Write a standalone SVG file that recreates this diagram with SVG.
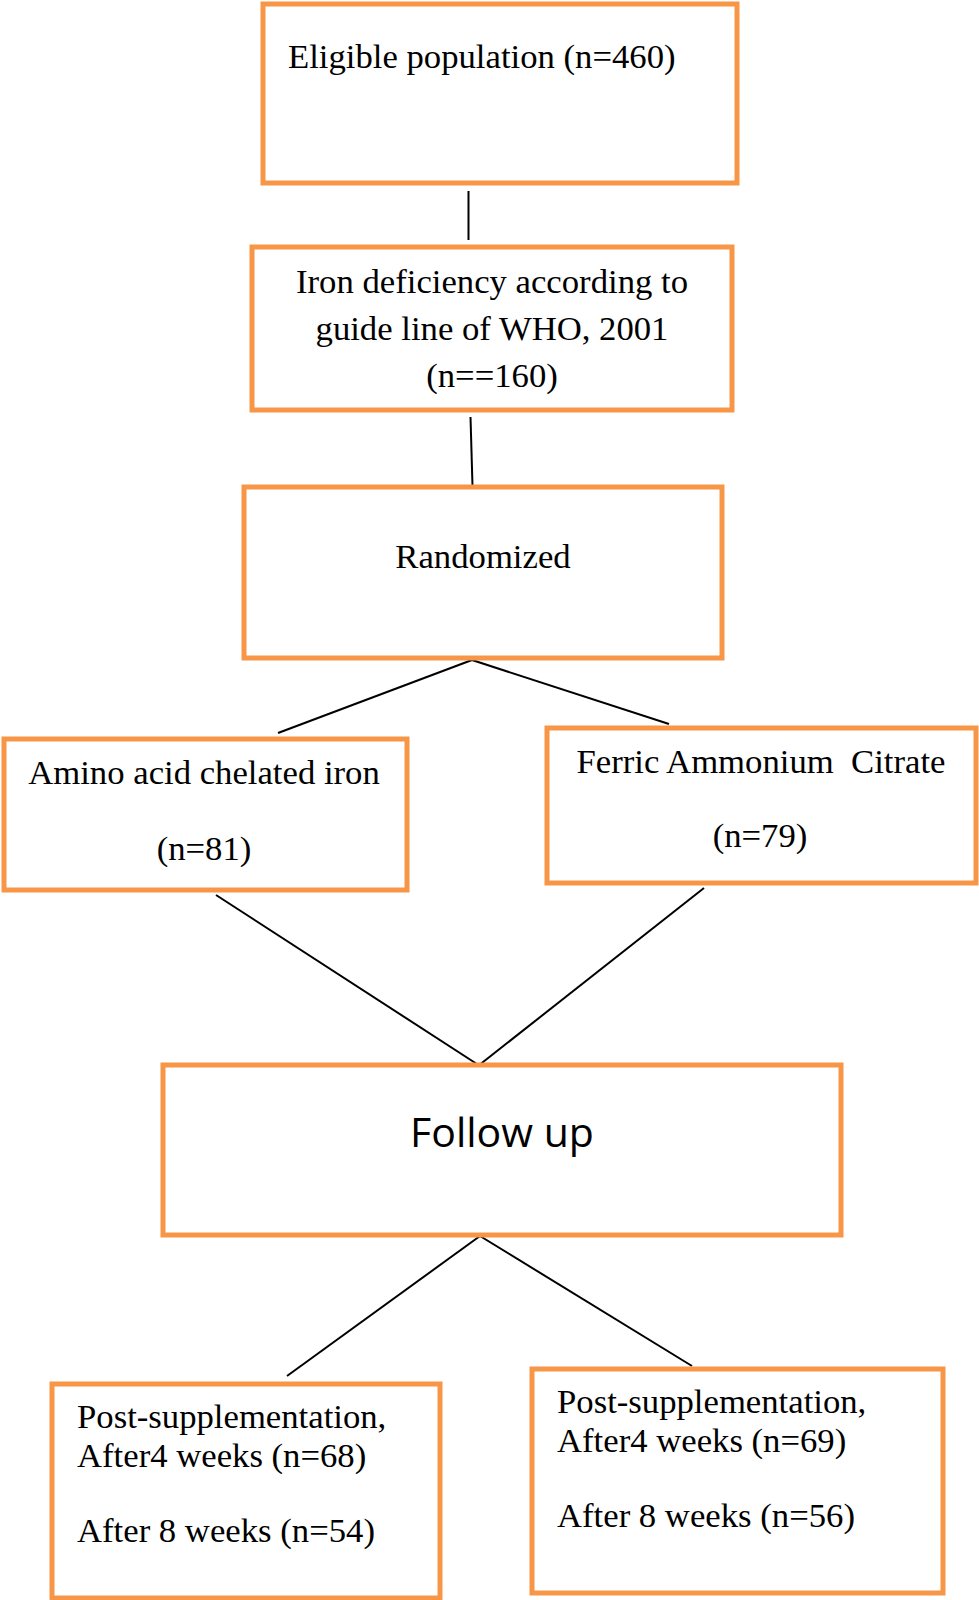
<svg xmlns="http://www.w3.org/2000/svg" width="979" height="1600" viewBox="0 0 979 1600">
<style>
.box{fill:#fff;stroke:#F79646;stroke-width:5}
.t{font-family:"Liberation Serif","Times New Roman",serif;font-size:34.7px;fill:#000;white-space:pre}
.c{text-anchor:middle}
.s{font-family:"Open Sans","Noto Sans",sans-serif;font-size:41px;fill:#000}
.ln{stroke:#000;stroke-width:2;fill:none}
</style>
<rect width="979" height="1600" fill="#fff"/>
<g id="connectors">
<line class="ln" x1="468.5" y1="191" x2="468.5" y2="240"/>
<line class="ln" x1="470.5" y1="417" x2="472.5" y2="486"/>
<line class="ln" x1="472" y1="660" x2="278" y2="733"/>
<line class="ln" x1="472" y1="660" x2="669" y2="724"/>
<line class="ln" x1="216" y1="895" x2="480" y2="1066"/>
<line class="ln" x1="704" y1="888" x2="478" y2="1066"/>
<line class="ln" x1="480" y1="1236" x2="287" y2="1376"/>
<line class="ln" x1="480" y1="1236" x2="692" y2="1366"/>
</g>
<g id="eligible">
<rect class="box" x="263" y="4" width="474" height="179"/>
<text class="t" x="288" y="68">Eligible population (n=460)</text>
</g>
<g id="iron-deficiency">
<rect class="box" x="252" y="247" width="480" height="163"/>
<text class="t c" x="492" y="293">Iron deficiency according to</text>
<text class="t c" x="492" y="340">guide line of WHO, 2001</text>
<text class="t c" x="492" y="387">(n==160)</text>
</g>
<g id="randomized">
<rect class="box" x="244" y="487" width="478" height="171"/>
<text class="t c" x="483" y="568">Randomized</text>
</g>
<g id="amino">
<rect class="box" x="4" y="739" width="403" height="151"/>
<text class="t c" x="204" y="784">Amino acid chelated iron</text>
<text class="t c" x="204" y="860">(n=81)</text>
</g>
<g id="ferric">
<rect class="box" x="547" y="728" width="429" height="155"/>
<text class="t c" x="761" y="773">Ferric Ammonium  Citrate</text>
<text class="t c" x="760" y="847">(n=79)</text>
</g>
<g id="followup">
<rect class="box" x="163" y="1065" width="678" height="170"/>
<text class="s c" x="502" y="1147">Follow up</text>
</g>
<g id="post-left">
<rect class="box" x="52" y="1384" width="388" height="214"/>
<text class="t" x="77" y="1428">Post-supplementation,</text>
<text class="t" x="77" y="1467">After4 weeks (n=68)</text>
<text class="t" x="77" y="1542">After 8 weeks (n=54)</text>
</g>
<g id="post-right">
<rect class="box" x="532" y="1369" width="411" height="224"/>
<text class="t" x="557" y="1413">Post-supplementation,</text>
<text class="t" x="557" y="1452">After4 weeks (n=69)</text>
<text class="t" x="557" y="1527">After 8 weeks (n=56)</text>
</g>
</svg>
